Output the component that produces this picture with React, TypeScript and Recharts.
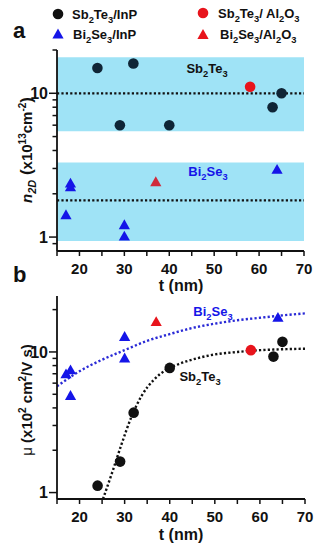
import React from 'react';
import { ComposedChart, XAxis, YAxis, Scatter, Line, ReferenceArea, ReferenceLine } from 'recharts';

const FONT = '"Liberation Sans", Arial, sans-serif';
const INK = '#111111';
const BLUE = '#1515e8';
const FIT_BLUE = '#2a2ad6';
const RED = '#e8141c';
const CYAN = '#9fe3f6';

// x axis: film thickness t (nm)
const tTicks = [15, 20, 25, 30, 35, 40, 45, 50, 55, 60, 65, 70];
const tLabels = [20, 30, 40, 50, 60, 70];
const logTicksA = [0.9, 1, 2, 3, 4, 5, 6, 7, 8, 9, 10, 20];
const logTicksB = [1, 2, 3, 4, 5, 6, 7, 8, 9, 10, 20];
const logLabels = [1, 10];

// panel a: n2D (x10^13 cm^-2)
const sbInpT = [24, 29, 32, 40, 63, 65];
const sbInpN = [15.0, 6.0, 16.1, 6.0, 8.0, 10.0];
const sbAlT = [58];
const sbAlN = [11.1];
const biInpT = [17, 18, 18, 30, 30, 64];
const biInpN = [1.42, 2.36, 2.22, 1.21, 1.01, 2.94];
const biAlT = [37];
const biAlN = [2.41];
const sbBand = [5.45, 17.8];
const biBand = [0.94, 3.3];
const sbMean = 10;
const biMean = 1.8;

// panel b: mobility (x10^2 cm^2/V s)
const sbInpMu = [1.12, 1.66, 3.7, 7.7, 9.27, 11.8];
const sbAlMu = [10.3];
const biInpMu = [6.94, 7.4, 4.87, 12.8, 9.0, 17.5];
const biAlMu = [16.3];
const biFitT = [15, 20, 25, 30, 35, 40, 45, 50, 55, 60, 65, 70];
const biFitMu = [5.7, 7.3, 8.8, 10.3, 12.0, 13.4, 14.8, 15.9, 16.8, 17.5, 18.2, 18.8];
const sbFitT = [25.2, 27.4, 29.3, 31.5, 33.8, 36.4, 39, 42, 46, 50, 55, 60, 65, 70];
const sbFitMu = [0.9, 1.44, 2.2, 3.45, 4.9, 6.3, 7.4, 8.2, 9.0, 9.6, 10.0, 10.3, 10.45, 10.55];

const pts = (ts: number[], vs: number[]) => ts.map((t, i) => ({ t, v: vs[i] }));

const dot = (color: string) => (p: any) => <circle cx={p.cx} cy={p.cy} r={5.3} fill={color} />;
const tri = (color: string) => (p: any) => (
  <path d={`M${p.cx},${p.cy - 5.8} L${p.cx + 5.6},${p.cy + 4} L${p.cx - 5.6},${p.cy + 4} Z`} fill={color} />
);

const xTick = (p: any) => {
  const v = p.payload.value;
  return (
    <g>
      <line x1={p.x} x2={p.x} y1={p.y} y2={p.y + 5} stroke={INK} strokeWidth={1.5} />
      {tLabels.includes(v) && (
        <text x={p.x} y={p.y + 23} textAnchor="middle" fontSize={15} fontWeight="bold" fontFamily={FONT} fill={INK}>
          {v}
        </text>
      )}
    </g>
  );
};

const yTick = (p: any) => {
  const v = p.payload.value;
  const major = logLabels.includes(v);
  return (
    <g>
      <line x1={p.x - (major ? 8 : 4.5)} x2={p.x} y1={p.y} y2={p.y} stroke={INK} strokeWidth={1.5} />
      {major && (
        <text x={p.x - 9} y={p.y + 5.8} textAnchor="end" fontSize={16} fontWeight="bold" fontFamily={FONT} fill={INK}>
          {v}
        </text>
      )}
    </g>
  );
};

const axisLine = { stroke: INK, strokeWidth: 1.8 };

const Frame = () => [
  <XAxis key="ft" xAxisId="top" orientation="top" type="number" domain={[15, 70]} height={0} tick={false} tickLine={false} axisLine={axisLine} />,
  <YAxis key="fr" yAxisId="right" orientation="right" type="number" domain={[0, 1]} width={0} tick={false} tickLine={false} axisLine={axisLine} />,
];

const PanelA = () => (
  <ComposedChart width={318} height={290} margin={{ top: 50, right: 14, bottom: 0, left: 0 }}>
    <XAxis dataKey="t" type="number" domain={[15, 70]} ticks={tTicks} interval={0} allowDataOverflow height={39}
      tickSize={0} tickMargin={0} tick={xTick} axisLine={axisLine} />
    <YAxis dataKey="v" type="number" scale="log" domain={[0.8, 20]} ticks={logTicksA} interval={0} allowDataOverflow width={57}
      tickSize={0} tickMargin={0} tick={yTick} axisLine={axisLine} />
    {Frame()}
    <ReferenceArea x1={15} x2={70} y1={sbBand[0]} y2={sbBand[1]} fill={CYAN} fillOpacity={1} stroke="none" />
    <ReferenceArea x1={15} x2={70} y1={biBand[0]} y2={biBand[1]} fill={CYAN} fillOpacity={1} stroke="none" />
    <ReferenceLine y={sbMean} stroke={INK} strokeWidth={2.2} strokeDasharray="2.2 2.2" />
    <ReferenceLine y={biMean} stroke={INK} strokeWidth={2.2} strokeDasharray="2.2 2.2" />
    <Scatter data={pts(sbInpT, sbInpN)} shape={dot('#0f2536')} isAnimationActive={false} />
    <Scatter data={pts(sbAlT, sbAlN)} shape={dot(RED)} isAnimationActive={false} />
    <Scatter data={pts(biInpT, biInpN)} shape={tri(BLUE)} isAnimationActive={false} />
    <Scatter data={pts(biAlT, biAlN)} shape={tri('#d02a3a')} isAnimationActive={false} />
  </ComposedChart>
);

const PanelB = () => (
  <ComposedChart width={318} height={270} margin={{ top: 16, right: 13, bottom: 0, left: 0 }}>
    <XAxis dataKey="t" type="number" domain={[15, 70]} ticks={tTicks} interval={0} allowDataOverflow height={51}
      tickSize={0} tickMargin={0} tick={xTick} axisLine={axisLine} />
    <YAxis dataKey="v" type="number" scale="log" domain={[0.9, 25]} ticks={logTicksB} interval={0} allowDataOverflow width={57}
      tickSize={0} tickMargin={0} tick={yTick} axisLine={axisLine} />
    {Frame()}
    <Line data={pts(biFitT, biFitMu)} dataKey="v" type="monotone" stroke={FIT_BLUE} strokeWidth={2.4}
      strokeDasharray="2.2 2.2" dot={false} activeDot={false} isAnimationActive={false} />
    <Line data={pts(sbFitT, sbFitMu)} dataKey="v" type="monotone" stroke={INK} strokeWidth={2.4}
      strokeDasharray="2.2 2.2" dot={false} activeDot={false} isAnimationActive={false} />
    <Scatter data={pts(sbInpT, sbInpMu)} shape={dot(INK)} isAnimationActive={false} />
    <Scatter data={pts(sbAlT, sbAlMu)} shape={dot(RED)} isAnimationActive={false} />
    <Scatter data={pts(biInpT, biInpMu)} shape={tri(BLUE)} isAnimationActive={false} />
    <Scatter data={pts(biAlT, biAlMu)} shape={tri(RED)} isAnimationActive={false} />
  </ComposedChart>
);

// chemical formula with subscripts, e.g. ['Sb', '2', 'Te', '3']
const Formula = ({ parts, size }: { parts: string[]; size: number }) => (
  <>
    {parts.map((s, i) =>
      i % 2 === 1 ? (
        <tspan key={i} dy={size * 0.28} fontSize={size * 0.72}>{s}</tspan>
      ) : (
        <tspan key={i} dy={i === 0 ? 0 : -size * 0.28} fontSize={size}>{s}</tspan>
      )
    )}
  </>
);

const txt = { fontFamily: FONT, fontWeight: 'bold' as const, fill: INK };

const Overlay = () => (
  <svg width={318} height={550} style={{ position: 'absolute', left: 0, top: 0, pointerEvents: 'none' }}>
    {/* legend */}
    <circle cx={58} cy={14} r={5.3} fill={INK} />
    <text x={72} y={19} {...txt}><Formula parts={['Sb', '2', 'Te', '3', '/InP']} size={13} /></text>
    <path d="M58,28.5 L63.6,38.5 L52.4,38.5 Z" fill={BLUE} />
    <text x={73} y={39} {...txt}><Formula parts={['Bi', '2', 'Se', '3', '/InP']} size={13} /></text>
    <circle cx={203} cy={13} r={5.3} fill={RED} />
    <text x={218} y={18} {...txt}><Formula parts={['Sb', '2', 'Te', '3', '/ Al', '2', 'O', '3']} size={13} /></text>
    <path d="M203,29 L208.6,39 L197.4,39 Z" fill={RED} />
    <text x={220} y={39} {...txt}><Formula parts={['Bi', '2', 'Se', '3', '/Al', '2', 'O', '3']} size={13} /></text>

    {/* panel letters */}
    <text x={13} y={38} {...txt} fontSize={22}>a</text>
    <text x={13} y={282} {...txt} fontSize={22}>b</text>

    {/* in-plot labels */}
    <text x={207} y={73} textAnchor="middle" {...txt}><Formula parts={['Sb', '2', 'Te', '3']} size={13} /></text>
    <text x={208} y={176} textAnchor="middle" {...txt} fill={BLUE}><Formula parts={['Bi', '2', 'Se', '3']} size={13} /></text>
    <text x={213} y={316} textAnchor="middle" {...txt} fill={BLUE}><Formula parts={['Bi', '2', 'Se', '3']} size={13} /></text>
    <text x={200} y={381} textAnchor="middle" {...txt}><Formula parts={['Sb', '2', 'Te', '3']} size={13} /></text>

    {/* axis titles */}
    <text x={181} y={291} textAnchor="middle" {...txt} fontSize={16}>t (nm)</text>
    <text x={181} y={540} textAnchor="middle" {...txt} fontSize={16}>t (nm)</text>
    <text x={32} y={150} textAnchor="middle" transform="rotate(-90 32 150)" {...txt} fontSize={15}>
      <tspan fontStyle="italic">n</tspan>
      <tspan fontStyle="italic" fontSize={11} dy={4}>2D</tspan>
      <tspan dy={-4} fontSize={17}> (</tspan>
      <tspan>x10</tspan>
      <tspan fontSize={10} dy={-6}>13</tspan>
      <tspan dy={6}>cm</tspan>
      <tspan fontSize={10} dy={-6}>-2</tspan>
      <tspan dy={6} fontSize={17}>)</tspan>
    </text>
    <text x={32} y={400} textAnchor="middle" transform="rotate(-90 32 400)" {...txt} fontSize={15}>
      <tspan fontWeight="normal">μ</tspan>
      <tspan> (x10</tspan>
      <tspan fontSize={10} dy={-6}>2</tspan>
      <tspan dy={6}> cm</tspan>
      <tspan fontSize={10} dy={-6}>2</tspan>
      <tspan dy={6}>/V s)</tspan>
    </text>
  </svg>
);

export default function App() {
  return (
    <div style={{ position: 'absolute', left: 0, top: 0, width: 318, height: 550, background: '#fff', fontFamily: FONT }}>
      <div style={{ position: 'absolute', left: 0, top: 0 }}>
        <PanelA />
      </div>
      <div style={{ position: 'absolute', left: 0, top: 280 }}>
        <PanelB />
      </div>
      <Overlay />
    </div>
  );
}
